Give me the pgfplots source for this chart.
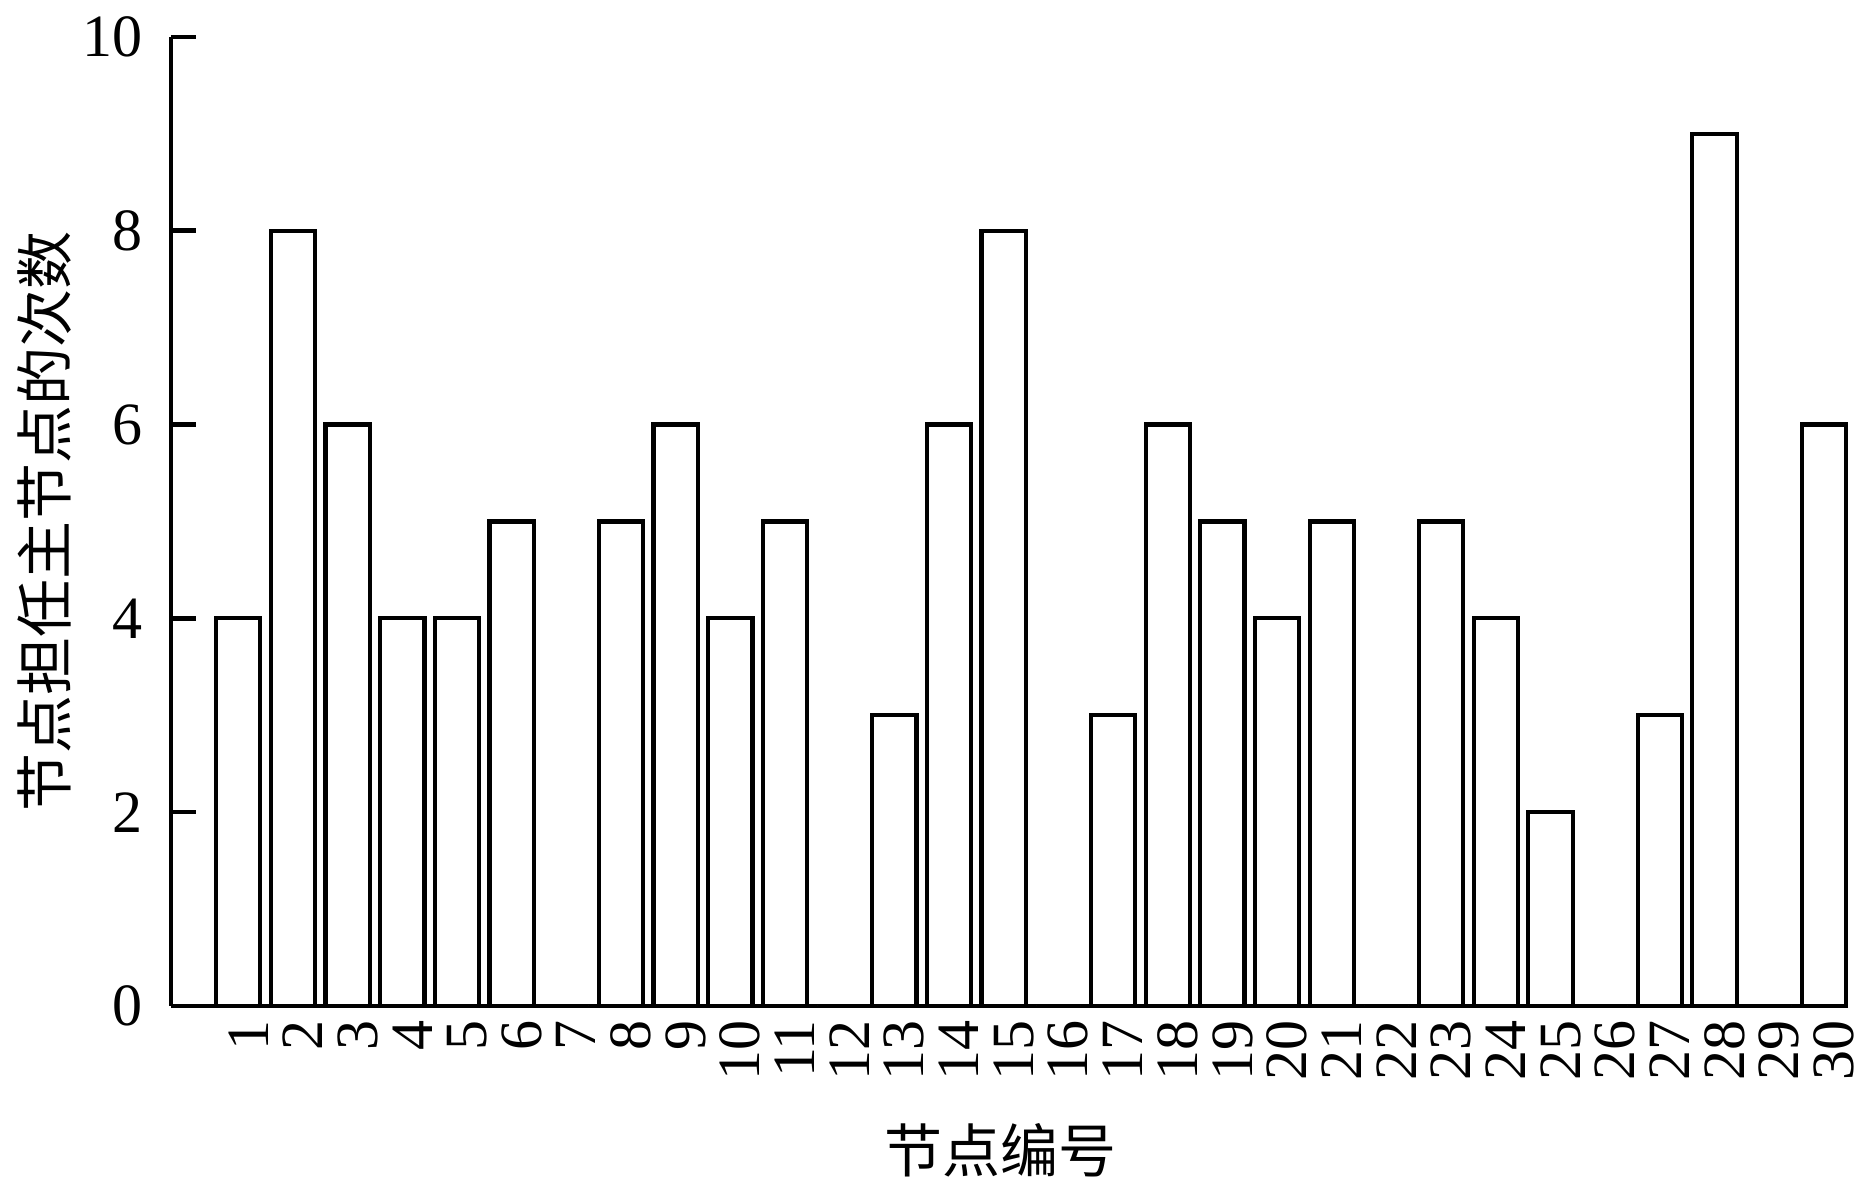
\documentclass[border=0pt]{standalone}
\usepackage{pgfplots}
\pgfplotsset{compat=1.18}
\usepackage{fontspec}
\setmainfont{Liberation Serif}
\newfontfamily\cjk{Noto Sans CJK SC}
\begin{document}
\begin{tikzpicture}
\useasboundingbox (-42.75pt,-45.25pt) rectangle (425.75pt,251.5pt);
\begin{axis}[
  at={(0pt,0pt)}, anchor=south west,
  scale only axis,
  width=418.75pt, height=242.25pt,
  xmin=-0.23, xmax=30.405,
  ymin=0, ymax=10,
  axis lines*=left,
  axis line style={line width=1.15pt, black},
  ybar, bar width=0.81,
  xtick={1,...,30},
  xtick style={draw=none},
  ytick={0,2,4,6,8,10},
  tick align=inside,
  major tick length=6.25pt,
  ytick style={line width=1.15pt, black},
  /pgf/number format/assume math mode=true,
  tick label style={font=\fontsize{15}{17}\selectfont},
  yticklabel style={xshift=-3.5pt},
  xticklabel style={rotate=90, anchor=east, yshift=-2.5pt},
  label style={font=\fontsize{14.5}{17}\selectfont\cjk},
  xlabel={节点编号},
  ylabel={节点担任主节点的次数},
  xlabel style={at={(axis description cs:0.5,0)}, anchor=center, yshift=-36pt, xshift=-2pt},
  ylabel style={at={(axis description cs:0,0.5)}, anchor=center, yshift=31.75pt},
  clip=false,
]
\addplot[fill=white, draw=black, line width=1.05pt] coordinates {
(1,4) (2,8) (3,6) (4,4) (5,4) (6,5) (7,0) (8,5) (9,6) (10,4)
(11,5) (12,0) (13,3) (14,6) (15,8) (16,0) (17,3) (18,6) (19,5) (20,4)
(21,5) (22,0) (23,5) (24,4) (25,2) (26,0) (27,3) (28,9) (29,0) (30,6)
};
\end{axis}
\end{tikzpicture}
\end{document}
